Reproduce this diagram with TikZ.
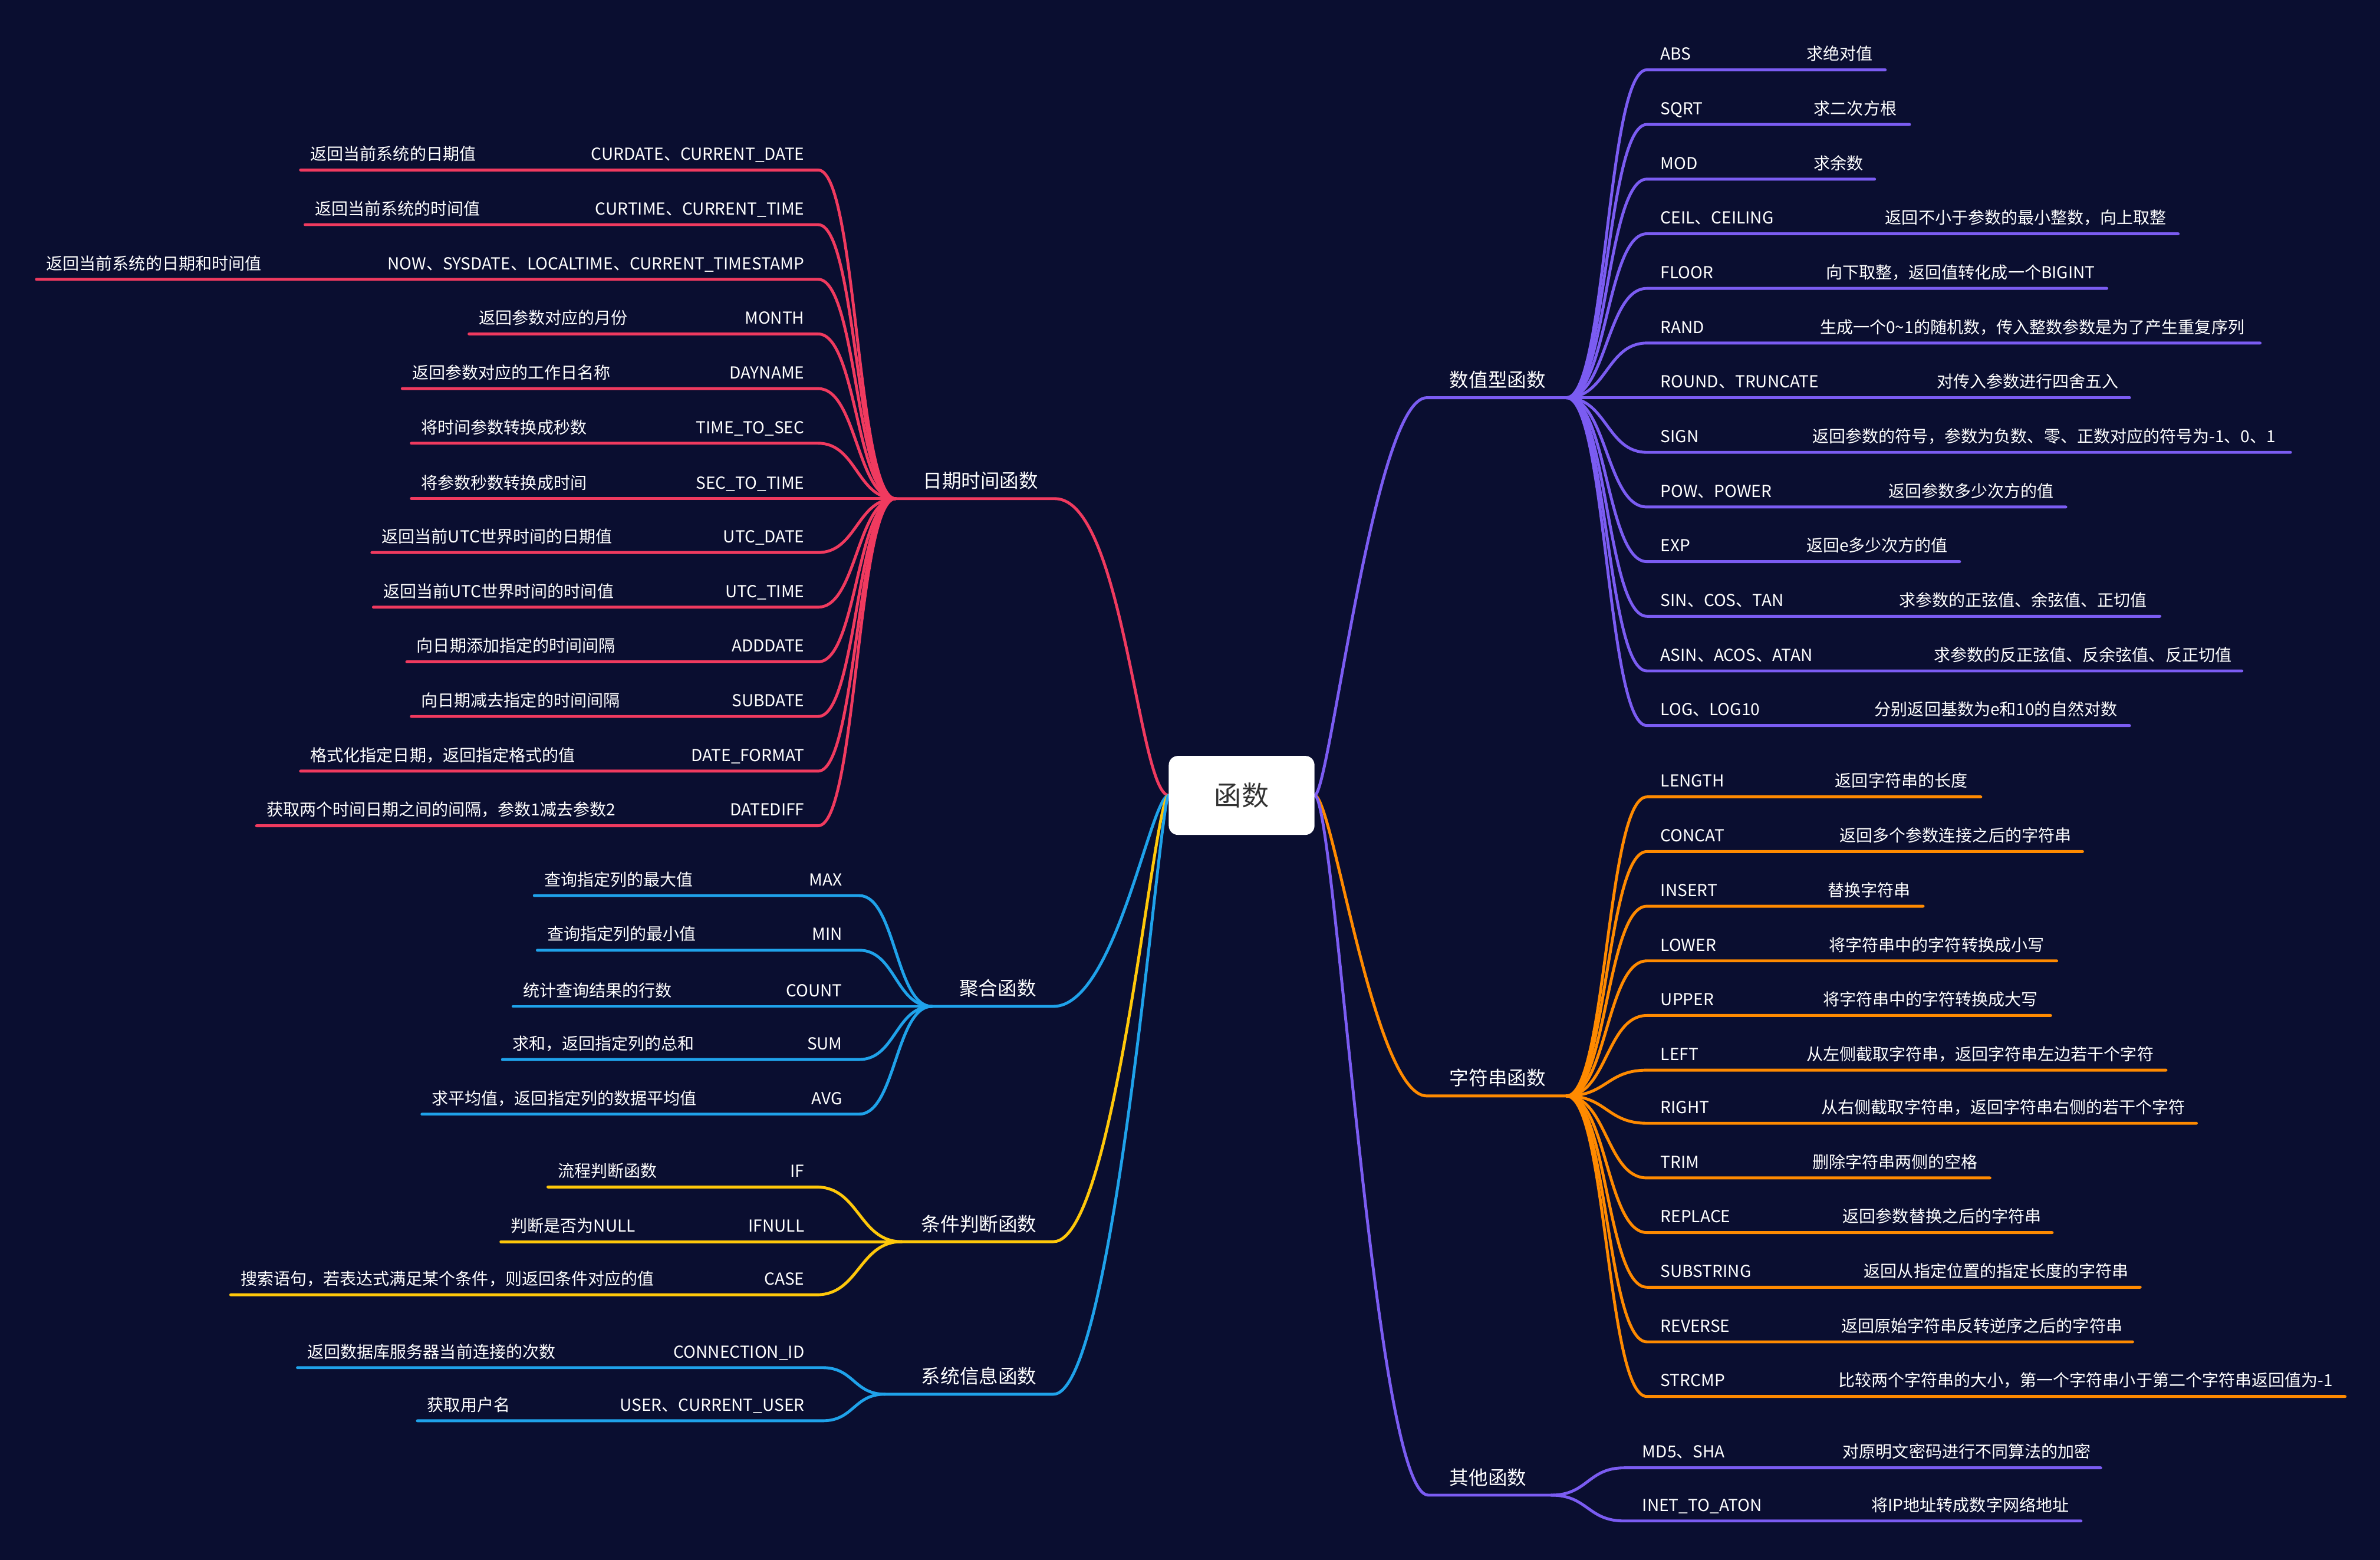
\documentclass[tikz,border=0pt]{standalone}
\usepackage{fontspec}
\setmainfont{Noto Sans CJK SC}
\usetikzlibrary{calc}
\pgfdeclarelayer{backdrop}
\pgfdeclarelayer{links}
\pgfsetlayers{backdrop,links,main}
\definecolor{bgc}{HTML}{0A0E30}
\definecolor{cred}{HTML}{F03A5F}
\definecolor{cblue}{HTML}{1FA2EA}
\definecolor{cyel}{HTML}{FFC80A}
\definecolor{corg}{HTML}{FF8A00}
\definecolor{cpur}{HTML}{7B5CF2}
\definecolor{roottext}{HTML}{333333}

\tikzset{
  leaftext/.style={text=white, inner sep=0pt, font=\fontsize{31}{36}\selectfont},
  branchtext/.style={text=white, inner sep=0pt, font=\fontsize{36}{42}\selectfont},
  link/.style={line width=1.9mm, line cap=round, line join=round},
}

% left leaf: id, line y, line left x, function, description
\newcommand\leafL[5]{%
  \coordinate (#1s) at (#3,#2);
  \coordinate (#1e) at (\curend,#2);
  \node[leaftext,anchor=base east] (#1f) at (\curfnx,#2-6.5) {#4};
  \node[leaftext,anchor=base west] (#1d) at (#3+6.5,#2-6.5) {#5};
  \begin{pgfonlayer}{links}
  \draw[link,\curcol] (#1s) -- (#1e) .. controls ($(#1e)!0.5!(\curhub |- #1e)$) and ($(\curhub)!0.5!(#1e |- \curhub)$) .. (\curhub);
  \end{pgfonlayer}
}
% right leaf: id, line y, line right x, description x, function, description
\newcommand\leafR[6]{%
  \coordinate (#1s) at (\curstart,#2);
  \coordinate (#1e) at (#3,#2);
  \node[leaftext,anchor=base west] (#1f) at (\curfnx,#2-6.5) {#5};
  \node[leaftext,anchor=base west] (#1d) at (#4,#2-6.5) {#6};
  \begin{pgfonlayer}{links}
  \draw[link,\curcol] (\curhub) .. controls ($(\curhub)!0.5!(#1s |- \curhub)$) and ($(#1s)!0.5!(\curhub |- #1s)$) .. (#1s) -- (#1e);
  \end{pgfonlayer}
}

\begin{document}
\begin{tikzpicture}[x=1mm,y=-1mm]
\begin{pgfonlayer}{backdrop}
\fill[bgc] (0,0) rectangle (1568,1027.7);
\end{pgfonlayer}

\node[fill=white, rounded corners=6mm, minimum width=96mm, minimum height=52mm, inner sep=0pt, text=roottext, font=\fontsize{51}{60}\selectfont] (root) at (818,524) {函数};

% ---------- 日期时间函数 ----------
\coordinate (dtHub) at (590,328.5);
\coordinate (dtEnd) at (695,328.5);
\node[branchtext,anchor=base west] (dt) at (608,321.5) {日期时间函数};
\begin{pgfonlayer}{links}
\draw[link,cred] (dtHub) -- (dtEnd) .. controls (740,328.5) and (750,523) .. (root.west);
\end{pgfonlayer}
\def\curcol{cred}\def\curhub{dtHub}\def\curend{539}\def\curfnx{530}
\leafL{r1}{112}{198}{CURDATE、CURRENT\_DATE}{返回当前系统的日期值}
\leafL{r2}{148}{201}{CURTIME、CURRENT\_TIME}{返回当前系统的时间值}
\leafL{r3}{184}{24}{NOW、SYSDATE、LOCALTIME、CURRENT\_TIMESTAMP}{返回当前系统的日期和时间值}
\leafL{r4}{220}{309}{MONTH}{返回参数对应的月份}
\leafL{r5}{256}{265}{DAYNAME}{返回参数对应的工作日名称}
\leafL{r6}{292}{271}{TIME\_TO\_SEC}{将时间参数转换成秒数}
\leafL{r7}{328.5}{271}{SEC\_TO\_TIME}{将参数秒数转换成时间}
\leafL{r8}{364}{245}{UTC\_DATE}{返回当前UTC世界时间的日期值}
\leafL{r9}{400}{246}{UTC\_TIME}{返回当前UTC世界时间的时间值}
\leafL{r10}{436}{268}{ADDDATE}{向日期添加指定的时间间隔}
\leafL{r11}{472}{271}{SUBDATE}{向日期减去指定的时间间隔}
\leafL{r12}{508}{198}{DATE\_FORMAT}{格式化指定日期，返回指定格式的值}
\leafL{r13}{544}{169}{DATEDIFF}{获取两个时间日期之间的间隔，参数1减去参数2}

% ---------- 聚合函数 ----------
\coordinate (agHub) at (614,663);
\coordinate (agEnd) at (694,663);
\node[branchtext,anchor=base west] (ag) at (632,656) {聚合函数};
\begin{pgfonlayer}{links}
\draw[link,cblue] (agHub) -- (agEnd) .. controls (735,663) and (758,524) .. (root.west);
\end{pgfonlayer}
\def\curcol{cblue}\def\curhub{agHub}\def\curend{566}\def\curfnx{555}
\leafL{a1}{590}{352}{MAX}{查询指定列的最大值}
\leafL{a2}{626}{354}{MIN}{查询指定列的最小值}
\leafL{a3}{663}{338}{COUNT}{统计查询结果的行数}
\leafL{a4}{698}{331}{SUM}{求和，返回指定列的总和}
\leafL{a5}{734}{278}{AVG}{求平均值，返回指定列的数据平均值}

% ---------- 条件判断函数 ----------
\coordinate (cdHub) at (594,818);
\coordinate (cdEnd) at (694,818);
\node[branchtext,anchor=base west] (cd) at (607,811) {条件判断函数};
\begin{pgfonlayer}{links}
\draw[link,cyel] (cdHub) -- (cdEnd) .. controls (735,818) and (760,524) .. (root.west);
\end{pgfonlayer}
\def\curcol{cyel}\def\curhub{cdHub}\def\curend{538}\def\curfnx{530}
\leafL{c1}{782}{361}{IF}{流程判断函数}
\leafL{c2}{818}{330}{IFNULL}{判断是否为NULL}
\leafL{c3}{853}{152}{CASE}{搜索语句，若表达式满足某个条件，则返回条件对应的值}

% ---------- 系统信息函数 ----------
\coordinate (siHub) at (583,918.5);
\coordinate (siEnd) at (694,918.5);
\node[branchtext,anchor=base west] (si) at (607,911.5) {系统信息函数};
\begin{pgfonlayer}{links}
\draw[link,cblue] (siHub) -- (siEnd) .. controls (735,918.5) and (764,524) .. (root.west);
\end{pgfonlayer}
\def\curcol{cblue}\def\curhub{siHub}\def\curend{542}\def\curfnx{530}
\leafL{s1}{901}{196}{CONNECTION\_ID}{返回数据库服务器当前连接的次数}
\leafL{s2}{936}{275}{USER、CURRENT\_USER}{获取用户名}

% ---------- 数值型函数 ----------
\coordinate (nvStart) at (940,262);
\coordinate (nvHub) at (1032,262);
\node[branchtext,anchor=base west] (nv) at (955,255) {数值型函数};
\begin{pgfonlayer}{links}
\draw[link,cpur] (root.east) .. controls (876,524) and (905,262) .. (nvStart) -- (nvHub);
\end{pgfonlayer}
\def\curcol{cpur}\def\curhub{nvHub}\def\curstart{1085}\def\curfnx{1094}
\leafR{n1}{46}{1242}{1190}{ABS}{求绝对值}
\leafR{n2}{82}{1258}{1195}{SQRT}{求二次方根}
\leafR{n3}{118}{1235}{1195}{MOD}{求余数}
\leafR{n4}{154}{1435}{1242}{CEIL、CEILING}{返回不小于参数的最小整数，向上取整}
\leafR{n5}{190}{1388}{1203}{FLOOR}{向下取整，返回值转化成一个BIGINT}
\leafR{n6}{226}{1489}{1199}{RAND}{生成一个0\textasciitilde1的随机数，传入整数参数是为了产生重复序列}
\leafR{n7}{262}{1403}{1276}{ROUND、TRUNCATE}{对传入参数进行四舍五入}
\leafR{n8}{298}{1509}{1194}{SIGN}{返回参数的符号，参数为负数、零、正数对应的符号为-1、0、1}
\leafR{n9}{334}{1361}{1244}{POW、POWER}{返回参数多少次方的值}
\leafR{n10}{370}{1291}{1190}{EXP}{返回e多少次方的值}
\leafR{n11}{406}{1423}{1251}{SIN、COS、TAN}{求参数的正弦值、余弦值、正切值}
\leafR{n12}{442}{1477}{1274}{ASIN、ACOS、ATAN}{求参数的反正弦值、反余弦值、反正切值}
\leafR{n13}{478}{1403}{1235}{LOG、LOG10}{分别返回基数为e和10的自然对数}

% ---------- 字符串函数 ----------
\coordinate (stStart) at (940,722);
\coordinate (stHub) at (1032,722);
\node[branchtext,anchor=base west] (st) at (955,715) {字符串函数};
\begin{pgfonlayer}{links}
\draw[link,corg] (root.east) .. controls (878,524) and (905,722) .. (stStart) -- (stHub);
\end{pgfonlayer}
\def\curcol{corg}\def\curhub{stHub}\def\curstart{1085}\def\curfnx{1094}
\leafR{o1}{525}{1305}{1209}{LENGTH}{返回字符串的长度}
\leafR{o2}{561}{1372}{1212}{CONCAT}{返回多个参数连接之后的字符串}
\leafR{o3}{597}{1267}{1204}{INSERT}{替换字符串}
\leafR{o4}{633}{1355}{1205}{LOWER}{将字符串中的字符转换成小写}
\leafR{o5}{669}{1351}{1201}{UPPER}{将字符串中的字符转换成大写}
\leafR{o6}{705}{1427}{1190}{LEFT}{从左侧截取字符串，返回字符串左边若干个字符}
\leafR{o7}{740}{1447}{1200}{RIGHT}{从右侧截取字符串，返回字符串右侧的若干个字符}
\leafR{o8}{776}{1311}{1194}{TRIM}{删除字符串两侧的空格}
\leafR{o9}{812}{1352}{1214}{REPLACE}{返回参数替换之后的字符串}
\leafR{o10}{848}{1410}{1228}{SUBSTRING}{返回从指定位置的指定长度的字符串}
\leafR{o11}{884}{1405}{1213}{REVERSE}{返回原始字符串反转逆序之后的字符串}
\leafR{o12}{920}{1545}{1211}{STRCMP}{比较两个字符串的大小，第一个字符串小于第二个字符串返回值为-1}

% ---------- 其他函数 ----------
\coordinate (otStart) at (941,985);
\coordinate (otHub) at (1022,985);
\node[branchtext,anchor=base west] (ot) at (955,978) {其他函数};
\begin{pgfonlayer}{links}
\draw[link,cpur] (root.east) .. controls (880,524) and (905,985) .. (otStart) -- (otHub);
\end{pgfonlayer}
\def\curcol{cpur}\def\curhub{otHub}\def\curstart{1070}\def\curfnx{1082}
\leafR{t1}{967}{1384}{1214}{MD5、SHA}{对原明文密码进行不同算法的加密}
\leafR{t2}{1002}{1371}{1233}{INET\_TO\_ATON}{将IP地址转成数字网络地址}
\end{tikzpicture}
\end{document}
